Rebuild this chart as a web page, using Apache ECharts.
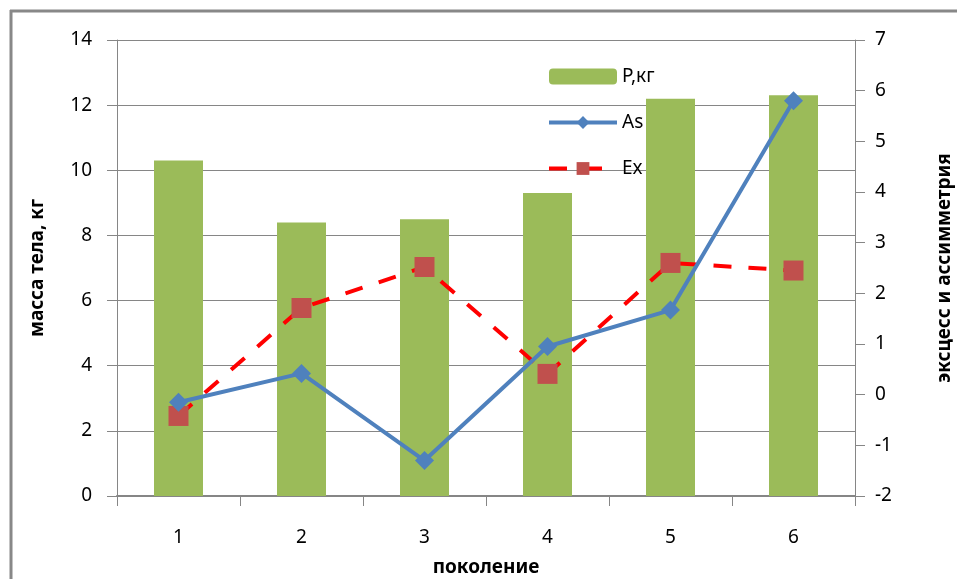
<!DOCTYPE html>
<html><head><meta charset="utf-8">
<script src="https://cdn.jsdelivr.net/npm/echarts@6/dist/echarts.min.js"></script>
<style>html,body{margin:0;padding:0;background:#fff;overflow:hidden;width:957px;height:579px}#c{width:957px;height:579px;display:block}</style>
</head><body><div id="c"></div>
<script>
var categories = ['1','2','3','4','5','6'];
var massValues = [10.3, 8.4, 8.5, 9.3, 12.2, 12.3];
var asValues = [-0.15, 0.42, -1.3, 0.95, 1.67, 5.8];
var exValues = [-0.42, 1.71, 2.52, 0.41, 2.6, 2.45];
var seriesNames = ['P,кг', 'As', 'Ex'];
var axisNames = {x: 'поколение', left: 'масса тела, кг', right: 'эксцесс и ассимметрия'};

var FONT = 'Noto Sans';
var chart = echarts.init(document.getElementById('c'), null, {renderer: 'canvas', width: 957, height: 579});
chart.setOption({
  animation: false,
  backgroundColor: '#fff',
  textStyle: {fontFamily: FONT},
  graphic: [
    {type: 'line', shape: {x1: 11, y1: 10, x2: 11, y2: 579}, style: {stroke: '#888', lineWidth: 3}},
    {type: 'line', shape: {x1: 10, y1: 11, x2: 957, y2: 11}, style: {stroke: '#888', lineWidth: 3}}
  ],
  grid: {left: 117, right: 102, top: 40, bottom: 83, containLabel: false, outerBoundsMode: 'none'},
  legend: {
    orient: 'vertical', left: 542, top: 62, itemWidth: 68, itemHeight: 16, itemGap: 27,
    textStyle: {fontFamily: FONT, fontSize: 19, color: '#000'},
    data: [
      {name: seriesNames[0]},
      {name: seriesNames[1], lineStyle: {width: 4}},
      {name: seriesNames[2], lineStyle: {width: 4}}
    ]
  },
  xAxis: {
    type: 'category', data: categories, boundaryGap: true,
    name: axisNames.x, nameLocation: 'middle', nameGap: 62,
    nameTextStyle: {fontFamily: FONT, fontSize: 19, fontWeight: 'bold', color: '#000'},
    axisLine: {lineStyle: {color: '#868686', width: 2}},
    axisTick: {show: true, length: 10, lineStyle: {color: '#868686'}},
    axisLabel: {fontSize: 19, color: '#000', margin: 32, fontFamily: FONT}
  },
  yAxis: [{
    type: 'value', min: 0, max: 14, interval: 2, position: 'left',
    name: axisNames.left, nameLocation: 'middle', nameGap: 70,
    nameTextStyle: {fontFamily: FONT, fontSize: 19, fontWeight: 'bold', color: '#000'},
    axisLine: {show: true, lineStyle: {color: '#868686', width: 1}},
    axisTick: {show: true, inside: false, length: 10, lineStyle: {color: '#868686'}},
    axisLabel: {fontSize: 19, color: '#000', margin: 25, fontFamily: FONT},
    splitLine: {show: true, lineStyle: {color: '#868686', width: 1}}
  }, {
    type: 'value', min: -2, max: 7, interval: 1, position: 'right',
    name: axisNames.right, nameLocation: 'middle', nameGap: 80,
    nameTextStyle: {fontFamily: FONT, fontSize: 19, fontWeight: 'bold', color: '#000'},
    axisLine: {show: true, lineStyle: {color: '#868686', width: 1}},
    axisTick: {show: true, length: 10, lineStyle: {color: '#868686'}},
    axisLabel: {fontSize: 19, color: '#000', margin: 20, fontFamily: FONT},
    splitLine: {show: false}
  }],
  series: [{
    name: seriesNames[0], type: 'bar', data: massValues, barWidth: 49, yAxisIndex: 0,
    itemStyle: {color: '#9BBB59'}
  }, {
    name: seriesNames[1], type: 'line', data: asValues, yAxisIndex: 1,
    symbol: 'diamond', symbolSize: 19, z: 4,
    lineStyle: {color: '#4F81BD', width: 4},
    itemStyle: {color: '#4F81BD'}
  }, {
    name: seriesNames[2], type: 'line', data: exValues, yAxisIndex: 1,
    symbol: 'rect', symbolSize: 20, z: 3,
    lineStyle: {color: '#FF0000', width: 4, type: [18, 17]},
    itemStyle: {color: '#C0504D'}
  }]
});
</script></body></html>
